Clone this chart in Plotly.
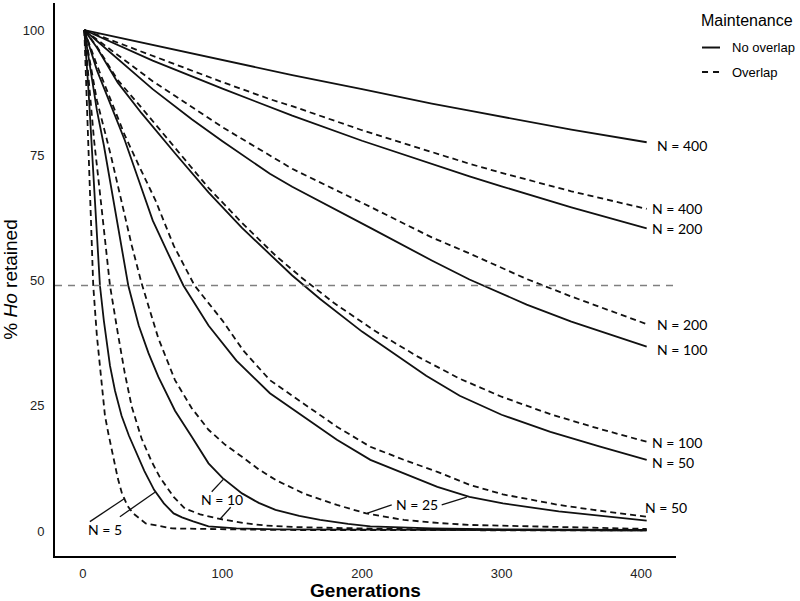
import plotly.graph_objects as go

# ---------------- data ----------------
GEN_S400 = [1, 50, 100, 134, 150, 200, 250, 277, 300, 350, 404]
HO_S400 = [100, 97.0, 94.0, 91.9, 91.0, 88.2, 85.3, 83.9, 82.7, 80.1, 77.6]

GEN_D400 = [1, 50, 100, 134, 150, 200, 250, 277, 300, 350, 404]
HO_D400 = [100, 94.8, 89.6, 86.2, 84.8, 80.0, 75.6, 73.3, 71.5, 67.8, 64.3]

GEN_S200 = [1, 50, 100, 134, 150, 200, 250, 277, 300, 350, 404]
HO_S200 = [100, 93.9, 88.3, 84.6, 82.9, 77.9, 73.2, 70.8, 68.8, 64.6, 60.4]

GEN_D200 = [1, 50, 100, 134, 150, 206, 250, 277, 318, 350, 404]
HO_D200 = [100, 89.8, 80.6, 75.0, 72.3, 64.7, 58.6, 55.4, 50.3, 46.8, 41.3]

GEN_S100 = [1, 50, 78, 100, 134, 150, 206, 250, 277, 318, 350, 404]
HO_S100 = [100, 88.2, 82.2, 77.8, 71.3, 68.7, 60.5, 54.0, 50.2, 45.2, 41.8, 36.8]

GEN_D100 = [1, 10, 25, 42, 66, 90, 114, 138, 157, 180, 210, 240, 270, 300, 335, 370, 404]
HO_D100 = [100, 96.7, 90.0, 84.5, 76.5, 68.5, 61.5, 55.0, 50.5, 45.5, 39.8, 34.8, 30.4, 26.8, 23.3, 20.4, 17.8]

GEN_S50 = [1, 10, 25, 42, 66, 90, 114, 138, 150, 170, 200, 246, 270, 300, 335, 370, 404]
HO_S50 = [100, 96.5, 89.5, 83.4, 75.4, 67.6, 60.5, 54.3, 51.0, 46.3, 39.8, 31.0, 27.0, 23.2, 19.8, 16.9, 14.2]

GEN_D50 = [1, 10, 20, 30, 40, 52, 65, 80, 100, 115, 134, 158, 182, 206, 230, 254, 277, 301, 341, 366, 390, 404]
HO_D50 = [100, 93, 86, 79, 73, 66, 57, 49, 42, 36, 30.1, 25.5, 20.8, 16.8, 14.2, 11.8, 9.2, 7.3, 5.2, 4.2, 3.4, 2.85]

GEN_S25 = [1, 10, 20, 30, 40, 50, 60, 72, 90, 110, 134, 158, 182, 206, 230, 254, 277, 301, 341, 370, 404]
HO_S25 = [100, 92, 85, 78, 70, 62, 56, 49, 41, 34, 27.5, 22.8, 18.2, 14.2, 11.5, 8.8, 6.8, 5.5, 3.9, 3.0, 2.05]

GEN_D25 = [1, 10, 20, 28, 35, 42, 54, 66, 78, 90, 102, 114, 126, 138, 158, 182, 203, 230, 254, 277, 335, 404]
HO_D25 = [100, 86, 75, 65.5, 57, 49.5, 38.5, 30.1, 24.5, 20.2, 17.2, 14.8, 12.3, 10.2, 7.5, 5.2, 3.5, 2.2, 1.6, 1.2, 0.8, 0.4]

GEN_S10 = [1, 5, 10, 15, 22, 32.5, 40, 47, 54, 66, 78, 90, 100, 114, 126, 138, 155, 170, 190, 206, 250, 300, 404]
HO_S10 = [100, 93, 84, 77, 66, 49, 41, 35.5, 30.8, 24, 18.8, 13.5, 10.6, 7.5, 5.6, 4.2, 3.0, 2.2, 1.4, 0.9, 0.5, 0.3, 0.2]

GEN_D10 = [1, 4, 8, 12, 16, 19.4, 25, 30, 35, 42, 49, 55, 65, 73, 84, 98, 115, 130, 150, 180, 250, 404]
HO_D10 = [100, 90, 78, 68, 57, 49, 39.5, 31.5, 24.8, 18.5, 14, 10.8, 6.8, 4.5, 3.3, 2.4, 1.6, 1.1, 0.8, 0.6, 0.3, 0.1]

GEN_S5 = [1, 4, 8.6, 12.2, 15, 19.4, 23, 27.7, 33, 38, 44, 51, 58, 65, 71, 79, 90, 110, 140, 404]
HO_S5 = [100, 88, 66, 49, 42, 33, 28, 23, 19, 15.8, 12, 8.2, 5.5, 3.5, 2.7, 1.9, 0.9, 0.5, 0.3, 0.1]

GEN_D5 = [1, 3, 5, 7.4, 10, 13.4, 15.8, 18.2, 21.7, 25, 28, 32, 36, 45, 64, 138, 404]
HO_D5 = [100, 85, 66, 49, 39, 30, 23, 19.5, 14.8, 10.5, 7.5, 5, 3.5, 1.5, 0.5, 0.2, 0.1]

HALF_LINE = 49  # dashed grey reference line

X_TICKS = [0, 100, 200, 300, 400]
Y_TICKS = [0, 25, 50, 75, 100]

MAINTENANCE = ["No overlap", "Overlap"]

# series: (label N, maintenance, gens, values)
SERIES = [
    (400, "No overlap", GEN_S400, HO_S400),
    (400, "Overlap", GEN_D400, HO_D400),
    (200, "No overlap", GEN_S200, HO_S200),
    (200, "Overlap", GEN_D200, HO_D200),
    (100, "No overlap", GEN_S100, HO_S100),
    (100, "Overlap", GEN_D100, HO_D100),
    (50, "No overlap", GEN_S50, HO_S50),
    (50, "Overlap", GEN_D50, HO_D50),
    (25, "No overlap", GEN_S25, HO_S25),
    (25, "Overlap", GEN_D25, HO_D25),
    (10, "No overlap", GEN_S10, HO_S10),
    (10, "Overlap", GEN_D10, HO_D10),
    (5, "No overlap", GEN_S5, HO_S5),
    (5, "Overlap", GEN_D5, HO_D5),
]

# right-hand end labels: series index -> (xshift px, yshift px)
END_LABELS = {0: (8, -3), 1: (3, 0), 2: (3, 0), 3: (8, 0), 4: (8, -3),
              5: (3, -1), 6: (3, -3), 7: (-4, 9)}

# inner labels (text, x, y) and leader lines (x0, y0, x1, y1) in data units
INNER_LABELS = [("N = 25", 239.2, 5.35), ("N = 10", 99.4, 6.35), ("N = 5", 15.8, 0.2)]
LEADERS = [
    (203.4, 3.53, 221.3, 5.19), (257.1, 5.19, 275.1, 6.73),
    (92.3, 7.84, 100.6, 10.3), (98.2, 2.33, 105.9, 4.73),
    (5.0, 1.86, 30.1, 6.53), (26.5, 2.85, 51.6, 7.72),
]

DASH = "6px,4px"
INK = "#111111"
STYLE = {"No overlap": "solid", "Overlap": DASH}

fig = go.Figure()
for n, maint, g, h in SERIES:
    fig.add_trace(go.Scatter(
        x=g, y=h, mode="lines", name=f"N = {n}, {maint}", legendgroup=maint,
        showlegend=False,
        line=dict(color=INK, width=1.8, dash=STYLE[maint]),
        hovertemplate=f"N = {n} ({maint})<br>Gen %{{x}}<br>%{{y}}%<extra></extra>",
    ))

for i, (xs, ys) in END_LABELS.items():
    n, maint, g, h = SERIES[i]
    fig.add_annotation(x=g[-1], y=h[-1], text=f"N = {n}", showarrow=False,
                       xanchor="left", yanchor="middle", xshift=xs, yshift=ys,
                       font=dict(family="Lato", size=14, color="#000"))

for txt, x, y in INNER_LABELS:
    fig.add_annotation(x=x, y=y, text=txt, showarrow=False, xanchor="center",
                       yanchor="middle", font=dict(family="Lato", size=14, color="#000"))

for x0, y0, x1, y1 in LEADERS:
    fig.add_shape(type="line", xref="x", yref="y", x0=x0, y0=y0, x1=x1, y1=y1,
                  line=dict(color=INK, width=1.3))

fig.add_shape(type="line", xref="paper", yref="y", x0=0, x1=1, y0=HALF_LINE, y1=HALF_LINE,
              line=dict(color="#7f7f7f", width=1.5, dash="7px,6px"))

# manual legend (paper coordinates)
fig.add_annotation(xref="paper", yref="paper", x=1.037, y=0.969, text="Maintenance",
                   showarrow=False, xanchor="left", yanchor="middle",
                   font=dict(size=16, color="#000"))
for k, (maint, ypos) in enumerate(zip(MAINTENANCE, [0.9195, 0.8752])):
    fig.add_shape(type="line", xref="paper", yref="paper", x0=1.0419, x1=1.0709,
                  y0=ypos, y1=ypos,
                  line=dict(color=INK, width=2, dash="solid" if k == 0 else "6px,5px"))
    fig.add_annotation(xref="paper", yref="paper", x=1.087, y=ypos, text=maint,
                       showarrow=False, xanchor="left", yanchor="middle",
                       font=dict(size=13, color="#000"))

fig.update_layout(
    width=800, height=601,
    margin=dict(l=55, r=124, t=3, b=45, autoexpand=False),
    paper_bgcolor="white", plot_bgcolor="white",
    font=dict(family="Liberation Sans, Arial, sans-serif", color="#000"),
    showlegend=False,
    xaxis=dict(
        range=[-20, 425], tickvals=X_TICKS, ticks="", showgrid=False, zeroline=False,
        showline=True, linecolor="#000", linewidth=2, ticklabelstandoff=4,
        tickfont=dict(size=13, color="#222"),
        title=dict(text="<b>Generations</b>", font=dict(size=19), standoff=2),
    ),
    yaxis=dict(
        range=[-5, 105.4], tickvals=Y_TICKS, ticks="", showgrid=False, zeroline=False,
        showline=True, linecolor="#000", linewidth=2, ticklabelstandoff=6,
        tickfont=dict(size=13, color="#222"),
        title=dict(text="% <i>Ho</i> retained", font=dict(size=19), standoff=4),
    ),
)

fig.write_html("out.html",
               config={"displayModeBar": False},
               post_script="document.body.style.margin='0px';"
                           "document.body.style.overflow='hidden';")
